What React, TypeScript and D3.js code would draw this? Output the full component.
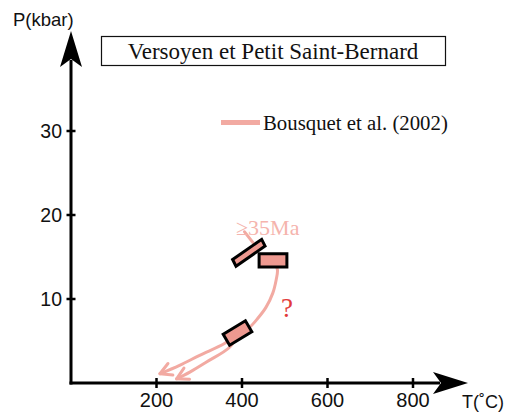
import React from "react";
import * as d3 from "d3";

// ---- data ----
const xTicks = [200, 400, 600, 800];
const yTicks = [10, 20, 30];
const title = "Versoyen et Petit Saint-Bernard";
const legendLabel = "Bousquet et al. (2002)";
const ageLabel = "≥35Ma";

// P-T boxes (corners in T °C, P kbar)
const boxHigh: [number, number][] = [[440, 13.8], [505, 13.8], [505, 15.4], [440, 15.4]];
const boxTilted: [number, number][] = [[454, 16.3], [446, 17.1], [378, 14.7], [386, 13.9]];
const boxLow: [number, number][] = [[423, 6.1], [408, 7.4], [356, 5.8], [371, 4.5]];

// P-T path segments
const pathMain: [number, number][] = [[478, 14.4], [483, 13.4], [480, 12.3], [472, 10.7], [456, 9.0], [437, 7.7], [417, 6.6], [392, 5.9]];
const pathAgeTick: [number, number][] = [[406, 18.0], [432, 16.3]];
const arrowA: [number, number][] = [[392, 5.9], [359, 4.7], [301, 3.3], [254, 2.1], [208, 1.1]];
const arrowB: [number, number][] = [[392, 5.9], [371, 4.25], [317, 2.5], [278, 1.3], [247, 0.5]];

const W = 532, H = 416;
const x = d3.scaleLinear().domain([0, 800]).range([71, 413]);
const y = d3.scaleLinear().domain([0, 30]).range([383, 131]);

const PINK = "#f2aaa2";
const FILL = "#ee9990";

const line = d3.line<[number, number]>().x(d => x(d[0])).y(d => y(d[1])).curve(d3.curveCatmullRom.alpha(0.5));
const poly = (pts: [number, number][]) => "M" + pts.map(p => `${x(p[0])},${y(p[1])}`).join("L") + "Z";

function head(pts: [number, number][]) {
  const a = pts[pts.length - 2], b = pts[pts.length - 1];
  const bx = x(b[0]), by = y(b[1]);
  const ang = Math.atan2(by - y(a[1]), bx - x(a[0]));
  const L = 13, sp = 0.5;
  const p1 = [bx - L * Math.cos(ang - sp), by - L * Math.sin(ang - sp)];
  const p2 = [bx - L * Math.cos(ang + sp), by - L * Math.sin(ang + sp)];
  return `M${p1[0]},${p1[1]}L${bx},${by}L${p2[0]},${p2[1]}`;
}

export default function App() {
  const x0 = x(0), y0 = y(0);
  const sans = "'Liberation Sans', Arial, sans-serif";
  const serif = "'Liberation Serif', 'Times New Roman', serif";
  return (
    <svg width={W} height={H} style={{ position: "absolute", left: 0, top: 0, background: "#fff" }}>
      {/* title box */}
      <rect x={101.5} y={36.5} width={344} height={29} fill="#fff" stroke="#111" strokeWidth={1.2} />
      <text x={273} y={59} textAnchor="middle" fontFamily={serif} fontSize={23} fill="#111">{title}</text>

      {/* legend */}
      <line x1={221} x2={260} y1={122.5} y2={122.5} stroke={PINK} strokeWidth={5} />
      <text x={263} y={129.5} fontFamily={serif} fontSize={20.8} fill="#111">{legendLabel}</text>

      {/* axes */}
      <line x1={x0} x2={x0} y1={y0 + 1.5} y2={60} stroke="#000" strokeWidth={3} />
      <line x1={x0 - 1.5} x2={440} y1={y0} y2={y0} stroke="#000" strokeWidth={3} />
      <path d={`M${x0},31L${x0 + 11},67L${x0},59L${x0 - 11},67Z`} fill="#000" />
      <path d={`M468,${y0}L433,${y0 - 11}L441,${y0}L433,${y0 + 11}Z`} fill="#000" />
      {xTicks.map(t => (
        <g key={t}>
          <line x1={x(t)} x2={x(t)} y1={y0 - 5} y2={y0 + 5} stroke="#000" strokeWidth={2.5} />
          <text x={x(t)} y={407} textAnchor="middle" fontFamily={sans} fontSize={20} fill="#111">{t}</text>
        </g>
      ))}
      {yTicks.map(t => (
        <g key={t}>
          <line x1={x0 - 4.5} x2={x0 + 4.5} y1={y(t)} y2={y(t)} stroke="#000" strokeWidth={2.5} />
          <text x={62} y={y(t) + 7} textAnchor="end" fontFamily={sans} fontSize={19.5} fill="#111">{t}</text>
        </g>
      ))}
      <text x={13} y={26} fontFamily={sans} fontSize={18.5} fill="#111">P(kbar)</text>
      <text x={462} y={408} fontFamily={sans} fontSize={18} fill="#111">T(˚C)</text>

      {/* paths */}
      <g fill="none" stroke={PINK} strokeWidth={3} strokeLinecap="round" strokeLinejoin="round">
        <path d={line(pathMain) || ""} />
        <path d={line(pathAgeTick) || ""} />
        <path d={line(arrowA) || ""} />
        <path d={line(arrowB) || ""} />
        <path d={head(arrowA)} />
        <path d={head(arrowB)} />
      </g>

      {/* boxes */}
      <g fill={FILL} stroke="#000" strokeWidth={3} strokeLinejoin="miter">
        <path d={poly(boxTilted)} />
        <path d={poly(boxHigh)} />
        <path d={poly(boxLow)} />
      </g>

      <text x={236} y={235} fontFamily={serif} fontSize={22} fill="#f5b4ad">{ageLabel}</text>
      <text x={281} y={317} fontFamily={serif} fontSize={27} fill="#e23b3b">?</text>
    </svg>
  );
}
